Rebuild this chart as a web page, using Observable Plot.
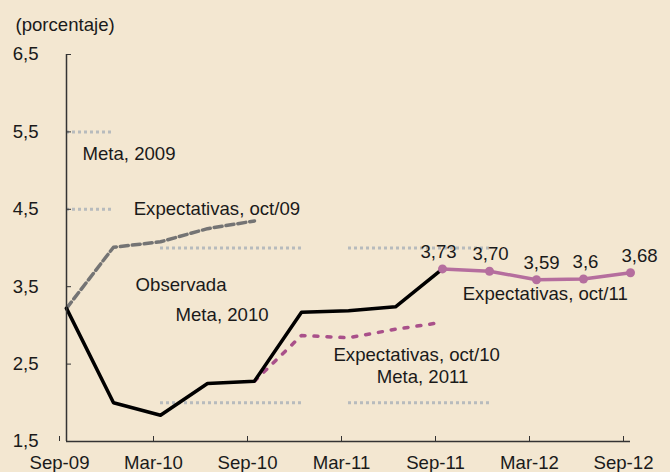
<!DOCTYPE html>
<html><head><meta charset="utf-8">
<script src="https://cdn.jsdelivr.net/npm/d3@7"></script>
<script src="https://cdn.jsdelivr.net/npm/@observablehq/plot@0.6"></script>
<style>
body{margin:0;background:#f3e7d1;}
#chart svg{background:#f3e7d1;display:block;}
</style>
</head><body><div id="chart"></div>
<script>
// Quarterly periods (x categories)
const quarters = ["Sep-09","Dec-09","Mar-10","Jun-10","Sep-10","Dec-10","Mar-11","Jun-11","Sep-11","Dec-11","Mar-12","Jun-12","Sep-12"];
const tickLabels = ["Sep-09","Mar-10","Sep-10","Mar-11","Sep-11","Mar-12","Sep-12"];
const yTicks = [1.5, 2.5, 3.5, 4.5, 5.5, 6.5];

// Series
const observadaPeriods = ["Sep-09","Dec-09","Mar-10","Jun-10","Sep-10","Dec-10","Mar-11","Jun-11","Sep-11"];
const observadaValues  = [3.22, 2.00, 1.84, 2.25, 2.28, 3.17, 3.19, 3.24, 3.73];

const expOct09Periods = ["Sep-09","Dec-09","Mar-10","Jun-10","Sep-10"];
const expOct09Values  = [3.22, 4.01, 4.08, 4.25, 4.35];

const expOct10Periods = ["Sep-10","Dec-10","Mar-11","Jun-11","Sep-11"];
const expOct10Values  = [2.28, 2.87, 2.84, 2.95, 3.04];

const expOct11Periods = ["Sep-11","Dec-11","Mar-12","Jun-12","Sep-12"];
const expOct11Values  = [3.73, 3.70, 3.59, 3.60, 3.68];
const expOct11Labels  = ["3,73","3,70","3,59","3,6","3,68"];

// Inflation target ranges (Meta)
const metaStart = ["Sep-09","Mar-10","Mar-11"];
const metaEnd   = ["Dec-09","Dec-10","Dec-11"];
const metaLow   = [4.5, 2.0, 2.0];
const metaHigh  = [5.5, 4.0, 4.0];

// Annotation texts, left-anchored in data coordinates (quarter index, value)
const annText = ["Meta, 2009","Expectativas, oct/09","Observada","Meta, 2010","Expectativas, oct/10","Meta, 2011","Expectativas, oct/11"];
const annX    = [0.34, 1.43, 1.47, 2.32, 5.68, 6.60, 8.43];
const annY    = [5.22, 4.50, 3.52, 3.14, 2.62, 2.33, 3.40];

// layout: horizontal nudges of the value labels (px)
const valueLabelNudge = [-4, 1, 5, 2, 9];

const idx = q => quarters.indexOf(q);
const series = (ps, vs) => ps.map((p, i) => ({x: idx(p), y: vs[i]}));

const observada = series(observadaPeriods, observadaValues);
const expOct09 = series(expOct09Periods, expOct09Values);
const expOct10 = series(expOct10Periods, expOct10Values);
const expOct11 = expOct11Periods.map((p, i) => ({x: idx(p), y: expOct11Values[i], label: expOct11Labels[i]}));
const metaRules = [];
metaStart.forEach((s, i) => {
  metaRules.push({x1: idx(s), x2: idx(metaEnd[i]), y: metaLow[i]});
  metaRules.push({x1: idx(s), x2: idx(metaEnd[i]), y: metaHigh[i]});
});
const annotations = annText.map((t, i) => ({text: t, x: annX[i], y: annY[i]}));

const fmt = d => String(d).replace(".", ",");
const font = "'Liberation Sans', Arial, Helvetica, sans-serif";
const fs = 18.6;

const valueLabelMarks = expOct11.map((d, i) =>
  Plot.text([d], {x: "x", y: "y", text: "label", dy: -17, dx: valueLabelNudge[i], fontSize: fs, fill: "#1a1a1a"})
);

const chart = Plot.plot({
  width: 670,
  height: 472,
  marginLeft: 66,
  marginRight: 40,
  marginTop: 54,
  marginBottom: 31,
  style: {background: "#f3e7d1", fontFamily: font, fontSize: fs + "px", color: "#1a1a1a", overflow: "visible"},
  x: {type: "linear", domain: [0, 12], label: null},
  y: {domain: [1.5, 6.5], label: null},
  marks: [
    Plot.ruleY(metaRules, {y: "y", x1: "x1", x2: "x2", stroke: "#b7bbbd", strokeWidth: 3, strokeDasharray: "3,3"}),
    Plot.line(expOct09, {x: "x", y: "y", stroke: "#747474", strokeWidth: 3.5, strokeDasharray: "8,4"}),
    Plot.line(expOct10, {x: "x", y: "y", stroke: "#a9508a", strokeWidth: 3.5, strokeDasharray: "4,9", strokeLinecap: "round"}),
    Plot.line(observada, {x: "x", y: "y", stroke: "#000", strokeWidth: 3.5}),
    Plot.line(expOct11, {x: "x", y: "y", stroke: "#b56e9e", strokeWidth: 3.5}),
    Plot.dot(expOct11, {x: "x", y: "y", r: 4.5, fill: "#b56e9e"}),
    ...valueLabelMarks,
    Plot.text(annotations, {x: "x", y: "y", text: "text", textAnchor: "start", fontSize: fs, fill: "#1a1a1a"}),
    Plot.ruleX([0], {stroke: "#333", strokeWidth: 1.5}),
    Plot.ruleY([1.5], {stroke: "#333", strokeWidth: 1.5}),
    Plot.axisY(yTicks, {label: null, tickFormat: fmt, tickSize: -5, tickPadding: 33, fontSize: fs, stroke: "#333", fill: "#1a1a1a"}),
    Plot.axisX([0, 2, 4, 6, 8, 10, 12], {label: null, tickFormat: i => tickLabels[i / 2], tickSize: -5, tickPadding: 19, dx: -7, fontSize: fs, stroke: "#333", fill: "#1a1a1a"}),
    Plot.text(["(porcentaje)"], {frameAnchor: "top-left", dx: -51, dy: -37, textAnchor: "start", fontSize: fs, fill: "#1a1a1a"})
  ]
});
document.getElementById("chart").appendChild(chart);
</script>
</body></html>
